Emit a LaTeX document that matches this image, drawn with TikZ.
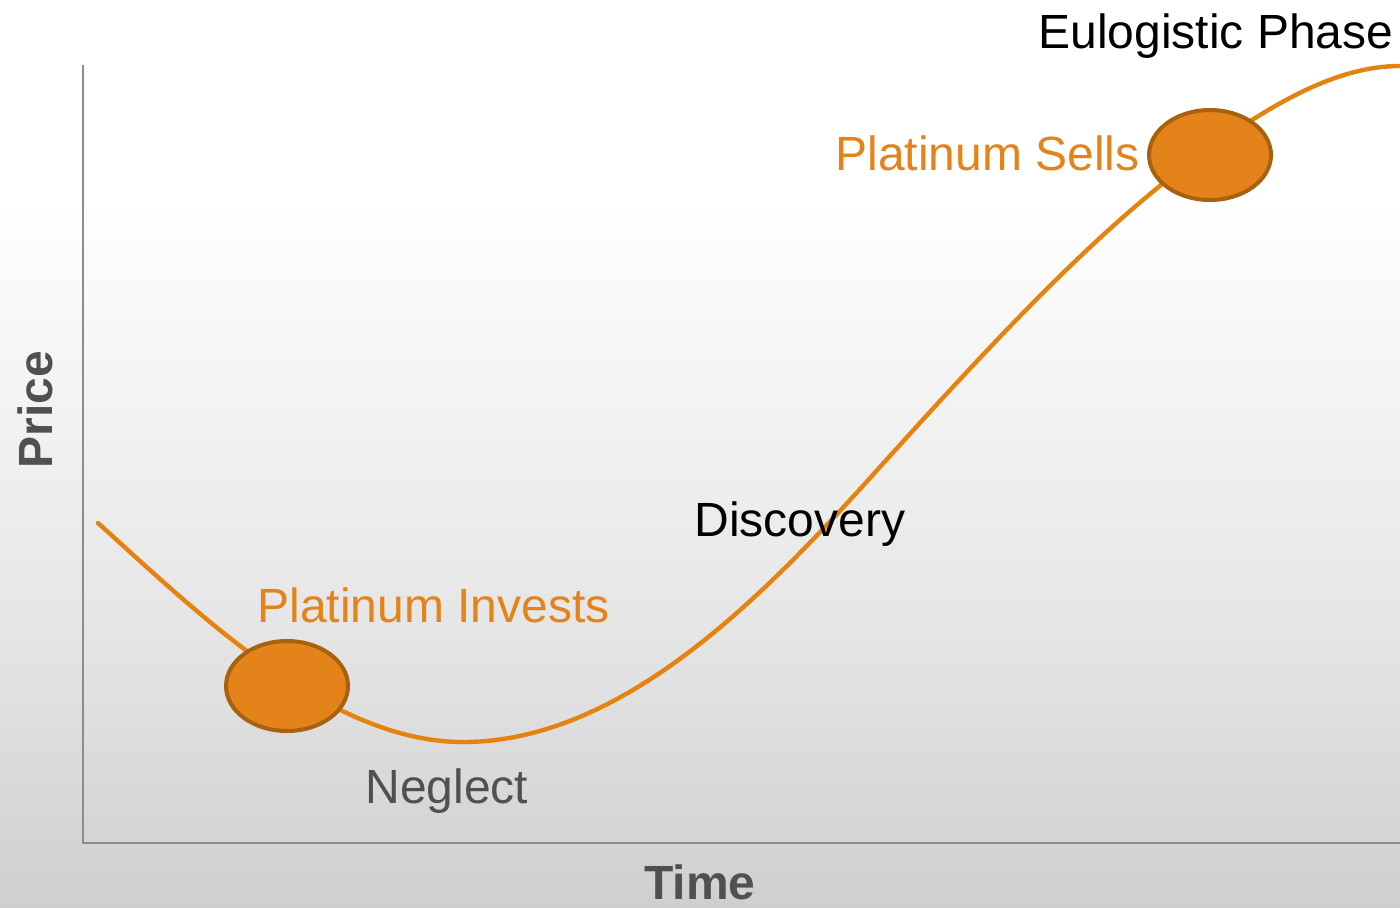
\documentclass[tikz,border=0pt]{standalone}
\usepackage{fontspec}
\setmainfont{Liberation Sans}
\usetikzlibrary{shapes.geometric,positioning}

\definecolor{curveorange}{HTML}{E6830F}
\definecolor{dotfill}{HTML}{E3831A}
\definecolor{dotrim}{HTML}{A8620F}
\definecolor{axisgray}{HTML}{8C8C8C}
\definecolor{labelgray}{HTML}{505050}
\definecolor{bgbot}{HTML}{CFCFCF}
\definecolor{bgmid}{HTML}{E5E5E5}

\pgfdeclareverticalshading{bgfade}{100bp}{color(0bp)=(bgbot); color(25bp)=(bgbot); color(40bp)=(bgmid); color(64bp)=(white); color(100bp)=(white)}

\tikzset{
  phase/.style={inner sep=0pt, anchor=base west, font=\fontsize{24}{28}\selectfont},
  axislabel/.style={phase, text=labelgray, font=\fontsize{24}{28}\selectfont\bfseries},
  dot/.style={ellipse, draw=dotrim, fill=dotfill, line width=2pt, minimum width=61pt, minimum height=45pt, inner sep=0pt}
}

\begin{document}
\begin{tikzpicture}[x=0.5pt,y=-0.5pt]
  \shade[shading=bgfade] (0,0) rectangle (1400,907);
  \useasboundingbox (0,0) rectangle (1400,907);

  % axes
  \coordinate (O) at (83,843);
  \coordinate (ytop) at (83,65);
  \coordinate (xend) at (1400,843);
  \draw[axisgray, line width=1pt] (ytop) -- (O) -- (xend);

  % price curve: fall, trough, climb, level off
  \coordinate (start) at (98,523);
  \coordinate (trough) at (463,742);
  \coordinate (bend) at (870,478);
  \coordinate (top) at (1210,148);
  \coordinate (finish) at (1400,66);
  \draw[curveorange, line width=2.2pt, line cap=round]
    (start) .. controls (200,615) and (330,742) .. (trough)
            .. controls (620,742) and (760,600) .. (bend)
            .. controls (990,345) and (1100,225) .. (top)
            .. controls (1280,99) and (1340,66) .. (finish);

  \node[dot] (buy)  at (287,686)  {};
  \node[dot] (sell) at (1210,155) {};

  \node[phase, text=dotfill] (invests) at (257,622) {Platinum Invests};
  \node[phase, text=dotfill] (sells)   at (835,170) {Platinum Sells};
  \node[phase, text=labelgray] (neglect) at (365,803) {Neglect};
  \node[phase] (discovery) at (694,536) {Discovery};
  \node[phase] (eulogistic) at (1038,48) {Eulogistic Phase};

  \node[axislabel, anchor=base] (time) at (700,899) {Time};
  \node[axislabel, rotate=90] (price) at (52,469) {Price};
\end{tikzpicture}
\end{document}
